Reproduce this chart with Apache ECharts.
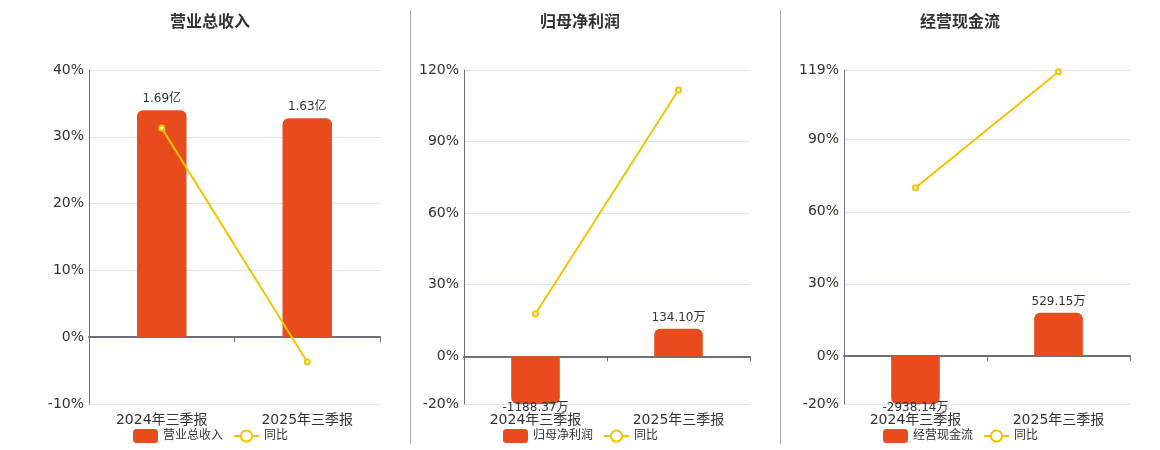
<!DOCTYPE html>
<html>
<head>
<meta charset="utf-8">
<script src="https://cdn.jsdelivr.net/npm/echarts@6/dist/echarts.min.js"></script>
<style>
html,body{margin:0;padding:0;background:#fff;}
#chart{width:1160px;height:450px;}
</style>
</head>
<body>
<div id="chart"></div>
<script>
// ---- data ----
const categories = ['2024年三季报', '2025年三季报'];
const panelTitles = ['营业总收入', '归母净利润', '经营现金流'];
const revenue = [1.69, 1.63];            // 亿
const revenueYoY = [31.3, -3.7];         // %
const netProfit = [-1188.37, 134.10];    // 万
const netProfitYoY = [17.8, 111.6];      // %
const cashFlow = [-2938.14, 529.15];     // 万
const cashFlowYoY = [70.0, 118.3];       // %
const units = ['亿', '万', '万'];
const yoyName = '同比';

// ---- layout config ----
const panels = [
  { bars: revenue, yoy: revenueYoY, pct: [-10, 40], barMax: 1.99, grid: { left: 89, width: 291 }, center: 210 },
  { bars: netProfit, yoy: netProfitYoY, pct: [-20, 120], barMax: 1400, grid: { left: 464, width: 286 }, center: 580 },
  { bars: cashFlow, yoy: cashFlowYoY, pct: [-20, 119], barMax: 3500, grid: { left: 844, width: 286 }, center: 960 }
];
const legendWidths = [154, 154, 154];

const FONT = '"DejaVu Sans", "Noto Sans CJK SC", sans-serif';
const BAR = '#e84b1c';
const LINE = '#f5c400';
const AXIS = '#6e7079';

const grids = [], xAxes = [], yAxes = [], series = [], legends = [], graphics = [];

panels.forEach((p, i) => {
  grids.push({ left: p.grid.left, width: p.grid.width, top: 70, height: 334, containLabel: false });
  // axis drawn on zero line (ticks, no labels)
  xAxes.push({
    type: 'category', gridIndex: i, data: categories, position: 'bottom',
    axisLine: { show: true, onZero: true, lineStyle: { color: AXIS, width: 2 } },
    axisTick: { show: true, length: 5, lineStyle: { color: AXIS } },
    axisLabel: { show: false }, splitLine: { show: false }
  });
  // axis at bottom carrying the labels
  xAxes.push({
    type: 'category', gridIndex: i, data: categories, position: 'bottom',
    axisLine: { show: false, onZero: false }, axisTick: { show: false },
    axisLabel: { show: true, fontSize: 14, color: '#333', margin: 9, fontFamily: FONT },
    splitLine: { show: false }
  });
  yAxes.push({
    type: 'value', gridIndex: i, min: p.pct[0], max: p.pct[1], splitNumber: 5,
    axisLine: { show: true, lineStyle: { color: AXIS, width: 1 } },
    axisTick: { show: false },
    axisLabel: { fontSize: 14, color: '#333', margin: 5, fontFamily: FONT, formatter: v => v + '%' },
    splitLine: { show: true, lineStyle: { color: '#e0e6f1' } }
  });
  yAxes.push({
    type: 'value', gridIndex: i, show: false,
    min: p.barMax * p.pct[0] / p.pct[1], max: p.barMax,
    splitLine: { show: false }
  });
  const unit = units[i];
  series.push({
    name: panelTitles[i], type: 'bar', xAxisIndex: i * 2, yAxisIndex: i * 2 + 1,
    barWidth: '34%',
    clip: true,
    data: p.bars.map(v => v < 0
      ? { value: v, itemStyle: { borderRadius: [0, 0, 6, 6] }, label: { position: 'bottom', distance: -2 } }
      : { value: v, itemStyle: { borderRadius: [6, 6, 0, 0] }, label: { position: 'top', distance: 5 } }),
    itemStyle: { color: BAR },
    label: {
      show: true, fontSize: 12, color: '#333', fontFamily: FONT,
      formatter: prm => prm.value.toFixed(2) + unit
    }
  });
  series.push({
    name: yoyName, type: 'line', xAxisIndex: i * 2, yAxisIndex: i * 2,
    data: p.yoy, symbol: 'emptyCircle', symbolSize: 5,
    lineStyle: { color: LINE, width: 2 }, itemStyle: { color: LINE, borderWidth: 1.5 },
    z: 5
  });
  legends.push({
    data: [panelTitles[i], yoyName],
    left: p.center - legendWidths[i] / 2 - 5, top: 424,
    itemWidth: 25, itemHeight: 14, itemGap: 10,
    textStyle: { fontSize: 12, color: '#333', fontFamily: FONT }
  });
  graphics.push({
    type: 'text', x: p.center, y: 23,
    style: { text: panelTitles[i], fill: '#333', font: 'bold 16px ' + FONT, textAlign: 'center', textVerticalAlign: 'middle' }
  });
});

graphics.push({ type: 'line', shape: { x1: 410.5, y1: 10, x2: 410.5, y2: 444 }, style: { stroke: '#aaaaaa', lineWidth: 1 } });
graphics.push({ type: 'line', shape: { x1: 780.5, y1: 10, x2: 780.5, y2: 444 }, style: { stroke: '#aaaaaa', lineWidth: 1 } });

const chart = echarts.init(document.getElementById('chart'), null, { renderer: 'canvas' });
chart.setOption({
  animation: false,
  textStyle: { fontFamily: FONT },
  grid: grids, xAxis: xAxes, yAxis: yAxes, series: series, legend: legends, graphic: graphics
});
</script>
</body>
</html>
